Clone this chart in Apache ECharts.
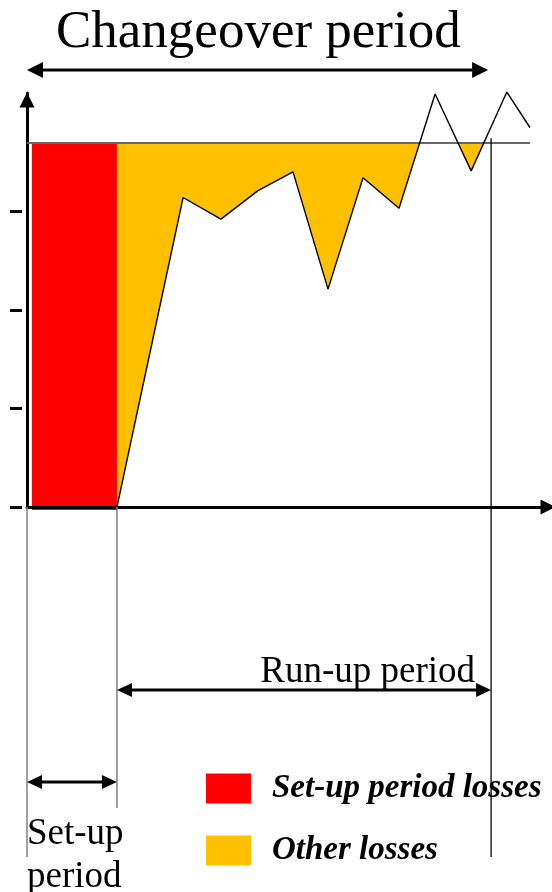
<!DOCTYPE html>
<html>
<head>
<meta charset="utf-8">
<script src="https://cdn.jsdelivr.net/npm/echarts@6/dist/echarts.min.js"></script>
<style>html,body{margin:0;padding:0;background:#fff}#c{width:552px;height:892px}</style>
</head>
<body>
<div id="c"></div>
<script>
// ---- data ----
const titleText = 'Changeover period';
const seriesNames = ['Set-up period losses', 'Other losses'];
const setupStart = 0.14;      // start of set-up (time units)
const setupEnd = 2.57;        // end of set-up / start of run-up
const runupEnd = 13.26;       // end of run-up
const target = 3.7;           // target performance level
const timeValues = [2.57, 4.46, 5.54, 6.6, 7.6, 8.6, 9.6, 10.63, 11.66, 12.69, 13.71, 14.37];
const performance = [0, 3.14, 2.92, 3.21, 3.40, 2.21, 3.34, 3.03, 4.19, 3.41, 4.21, 3.85];
const yTicks = [0, 1, 2, 3];
const periodLabels = ['Run-up period', 'Set-up\nperiod'];

// ---- build ----
const curve = timeValues.map((t, i) => [t, performance[i]]);
function belowTargetPolygon() {
  const pts = [];
  for (let i = 0; i < curve.length; i++) {
    const [x, y] = curve[i];
    if (i > 0) {
      const [px, py] = curve[i - 1];
      if ((py - target) * (y - target) < 0) {
        const cx = px + (target - py) * (x - px) / (y - py);
        pts.push([cx, target]);
      }
    }
    pts.push([x, Math.min(y, target)]);
  }
  pts.push([curve[curve.length - 1][0], target]);
  pts.push([curve[0][0], target]);
  return pts;
}
const fillPts = belowTargetPolygon();

const chart = echarts.init(document.getElementById('c'), null, {renderer: 'canvas'});
const SERIF = "'Liberation Serif', 'Times New Roman', serif";

const option = {
  animation: false,
  backgroundColor: '#fff',
  title: {
    text: titleText, left: 56, top: 7, padding: 0,
    textStyle: {fontFamily: SERIF, fontSize: 53, fontWeight: 'normal', color: '#000'}
  },
  legend: {
    orient: 'vertical', left: 206, top: 772, padding: 0,
    itemWidth: 45, itemHeight: 30, itemGap: 29, icon: 'rect',
    data: seriesNames,
    textStyle: {fontFamily: SERIF, fontSize: 33, fontWeight: 'bold', fontStyle: 'italic',
      color: '#000', lineHeight: 30, padding: [0, 0, 0, 16]}
  },
  grid: {left: 27, right: 0, top: 93, bottom: 385, containLabel: false},
  xAxis: {
    type: 'value', min: 0, max: 15,
    axisLine: {show: true, symbol: ['none', 'triangle'], symbolSize: [15, 15], symbolOffset: [0, -4],
      lineStyle: {color: '#000', width: 3}},
    axisTick: {show: false}, axisLabel: {show: false}, splitLine: {show: false}
  },
  yAxis: [{
    type: 'value', min: 0, max: 4.2,
    axisLine: {show: true, symbol: ['none', 'triangle'], symbolSize: [15, 15], symbolOffset: [0, -7],
      lineStyle: {color: '#000', width: 3}},
    axisTick: {show: false}, axisLabel: {show: false}, splitLine: {show: false}
  }, {
    type: 'value', min: 0, max: 4.2, position: 'left', offset: 5,
    axisLine: {show: false},
    axisTick: {show: true, length: 12, customValues: yTicks, lineStyle: {color: '#000', width: 3}},
    axisLabel: {show: false}, splitLine: {show: false}
  }],
  series: [
    {
      name: seriesNames[0], type: 'custom', z: -1, clip: false,
      itemStyle: {color: '#FF0000'},
      data: [[setupStart, setupEnd, 0, target]],
      renderItem: (params, api) => {
        const a = api.coord([api.value(0), api.value(3)]);
        const b = api.coord([api.value(1), api.value(2)]);
        return {type: 'rect', shape: {x: a[0], y: a[1], width: b[0] - a[0], height: b[1] - a[1] + 3},
          style: {fill: api.visual('color')}};
      }
    },
    {
      name: seriesNames[1], type: 'custom', z: -1, clip: false,
      itemStyle: {color: '#FFC000'},
      data: [[0]],
      renderItem: (params, api) => ({
        type: 'polygon',
        shape: {points: fillPts.map(p => api.coord(p))},
        style: {fill: api.visual('color')}
      })
    },
    {
      name: 'performance', type: 'line', data: curve, symbol: 'none', clip: false, z: 5,
      lineStyle: {color: '#000', width: 1.4},
      markLine: {
        silent: true, symbol: ['none', 'none'], label: {show: false},
        lineStyle: {color: '#666', width: 2, type: 'solid'},
        data: [[{coord: [0, target]}, {coord: [timeValues[timeValues.length - 1], target]}]]
      }
    }
  ]
};
chart.setOption(option);

// ---- annotations (positions derived from scales) ----
const px = v => chart.convertToPixel({xAxisIndex: 0}, v);
const x0 = px(0), xS = px(setupEnd), xR = px(runupEnd);
const yBase = chart.convertToPixel({yAxisIndex: 0}, 0);
const yTarget = chart.convertToPixel({yAxisIndex: 0}, target);

function dblArrow(xa, xb, y, L, h, w) {
  return [
    {type: 'line', shape: {x1: xa + L - 2, y1: y, x2: xb - L + 2, y2: y}, style: {stroke: '#000', lineWidth: w}},
    {type: 'polygon', shape: {points: [[xa, y], [xa + L, y - h], [xa + L, y + h]]}, style: {fill: '#000'}},
    {type: 'polygon', shape: {points: [[xb, y], [xb - L, y - h], [xb - L, y + h]]}, style: {fill: '#000'}}
  ];
}

const g = [
  {type: 'line', shape: {x1: x0, y1: yBase, x2: x0, y2: 857}, style: {stroke: '#808080', lineWidth: 1.5}},
  {type: 'line', shape: {x1: xS, y1: yBase, x2: xS, y2: 808}, style: {stroke: '#808080', lineWidth: 1.5}},
  {type: 'line', shape: {x1: xR, y1: yTarget - 4, x2: xR, y2: 857}, style: {stroke: '#000', lineWidth: 1.3}},
  ...dblArrow(x0, xR - 3, 70, 16, 8, 3),
  ...dblArrow(xS, xR, 690, 15, 7, 3),
  ...dblArrow(x0, xS, 782, 15, 7, 3),
  {type: 'text', x: xR - 16, y: 672, style: {text: periodLabels[0], font: '37px ' + SERIF,
    fill: '#000', textAlign: 'right', textVerticalAlign: 'middle'}},
  {type: 'text', x: x0, y: 856, style: {text: periodLabels[1], font: '37px ' + SERIF,
    fill: '#000', textAlign: 'left', textVerticalAlign: 'middle', lineHeight: 43}}
];
chart.setOption({graphic: g.map(e => Object.assign({silent: true, z: 10}, e))});
</script>
</body>
</html>
